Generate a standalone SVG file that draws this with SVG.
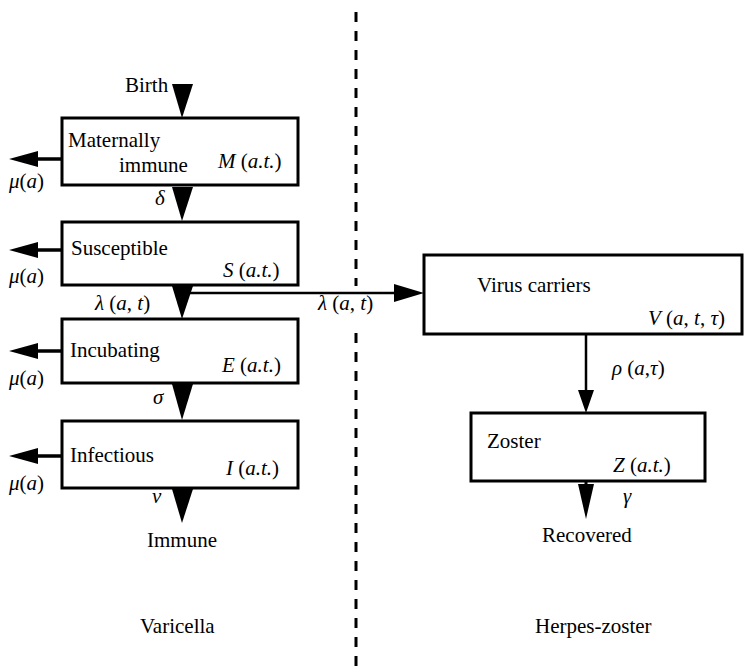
<svg xmlns="http://www.w3.org/2000/svg" width="744" height="672" viewBox="0 0 744 672">
<style>
.box{fill:#fff;stroke:#000;stroke-width:3}
.t{font-family:"Liberation Serif","Times New Roman",serif;font-size:21px;fill:#000}
.i{font-style:italic}
.ln{stroke:#000;stroke-width:3.5;fill:none}
.hd{fill:#000;stroke:none}
.dash{stroke:#000;stroke-width:3;stroke-dasharray:10 9}
</style>
<rect width="744" height="672" fill="#fff"/>
<line class="dash" x1="356" y1="12" x2="356" y2="286"/>
<line class="dash" x1="356" y1="333" x2="356" y2="672"/>
<g id="connectors">
  <polygon class="hd" points="172,84 193,84 182,118"/>
  <polygon class="hd" points="172,187 193,187 182,221"/>
  <polygon class="hd" points="172,286 193,286 182,319"/>
  <polygon class="hd" points="172,384 193,384 182,420"/>
  <polygon class="hd" points="172,489 193,489 182,523"/>
  <line class="ln" x1="62" y1="159" x2="34" y2="159"/><polygon class="hd" points="38,151 38,167 9,159"/>
  <line class="ln" x1="62" y1="250" x2="34" y2="250"/><polygon class="hd" points="38,242 38,258 9,250"/>
  <line class="ln" x1="62" y1="351" x2="34" y2="351"/><polygon class="hd" points="38,343 38,359 9,351"/>
  <line class="ln" x1="62" y1="456" x2="34" y2="456"/><polygon class="hd" points="38,448 38,464 9,456"/>
  <line x1="188" y1="293" x2="400" y2="293" stroke="#000" stroke-width="2.5"/>
  <polygon class="hd" points="394,284 394,302 424,293"/>
  <line x1="586" y1="334" x2="586" y2="392" stroke="#000" stroke-width="2.5"/>
  <polygon class="hd" points="578,390 594,390 586,413"/>
  <line x1="586" y1="481" x2="586" y2="486" stroke="#000" stroke-width="3"/>
  <polygon class="hd" points="578,484 594,484 586,519"/>
</g>
<g id="node-M">
  <rect class="box" x="62" y="118" width="236" height="67"/>
  <text class="t" x="68" y="147">Maternally</text>
  <text class="t" x="119" y="172">immune</text>
  <text class="t" x="218" y="168"><tspan class="i">M</tspan> (<tspan class="i">a.t.</tspan>)</text>
</g>
<g id="node-S">
  <rect class="box" x="62" y="222" width="236" height="63"/>
  <text class="t" x="71" y="255">Susceptible</text>
  <text class="t" x="223" y="277"><tspan class="i">S</tspan> (<tspan class="i">a.t.</tspan>)</text>
</g>
<g id="node-E">
  <rect class="box" x="62" y="319" width="236" height="64"/>
  <text class="t" x="70" y="357">Incubating</text>
  <text class="t" x="222" y="372"><tspan class="i">E</tspan> (<tspan class="i">a.t.</tspan>)</text>
</g>
<g id="node-I">
  <rect class="box" x="62" y="421" width="236" height="67"/>
  <text class="t" x="70" y="462">Infectious</text>
  <text class="t" x="226" y="475"><tspan class="i">I</tspan> (<tspan class="i">a.t.</tspan>)</text>
</g>
<g id="node-V">
  <rect class="box" x="424" y="255" width="318" height="79"/>
  <text class="t" x="477" y="292">Virus carriers</text>
  <text class="t" x="648" y="325"><tspan class="i">V</tspan> (<tspan class="i">a</tspan>, <tspan class="i">t</tspan>, <tspan class="i">τ</tspan>)</text>
</g>
<g id="node-Z">
  <rect class="box" x="471" y="413" width="234" height="68"/>
  <text class="t" x="487" y="448">Zoster</text>
  <text class="t" x="613" y="472"><tspan class="i">Z</tspan> (<tspan class="i">a.t.</tspan>)</text>
</g>
<g id="labels">
  <text class="t" x="125" y="92">Birth</text>
  <text class="t i" x="155" y="205">δ</text>
  <text class="t" x="95" y="310"><tspan class="i">λ</tspan> (<tspan class="i">a</tspan>, <tspan class="i">t</tspan>)</text>
  <text class="t" x="318" y="310"><tspan class="i">λ</tspan> (<tspan class="i">a</tspan>, <tspan class="i">t</tspan>)</text>
  <text class="t i" x="153" y="404">σ</text>
  <text class="t i" x="152" y="503">ν</text>
  <text class="t" x="147" y="547">Immune</text>
  <text class="t i" x="9" y="188">μ<tspan font-style="normal">(</tspan>a<tspan font-style="normal">)</tspan></text>
  <text class="t i" x="9" y="283">μ<tspan font-style="normal">(</tspan>a<tspan font-style="normal">)</tspan></text>
  <text class="t i" x="9" y="385">μ<tspan font-style="normal">(</tspan>a<tspan font-style="normal">)</tspan></text>
  <text class="t i" x="9" y="490">μ<tspan font-style="normal">(</tspan>a<tspan font-style="normal">)</tspan></text>
  <text class="t" x="612" y="375"><tspan class="i">ρ</tspan> (<tspan class="i">a</tspan>,<tspan class="i">τ</tspan>)</text>
  <text class="t i" x="623" y="503">γ</text>
  <text class="t" x="542" y="542">Recovered</text>
  <text class="t" x="140" y="633">Varicella</text>
  <text class="t" x="535" y="633">Herpes-zoster</text>
</g>
</svg>
